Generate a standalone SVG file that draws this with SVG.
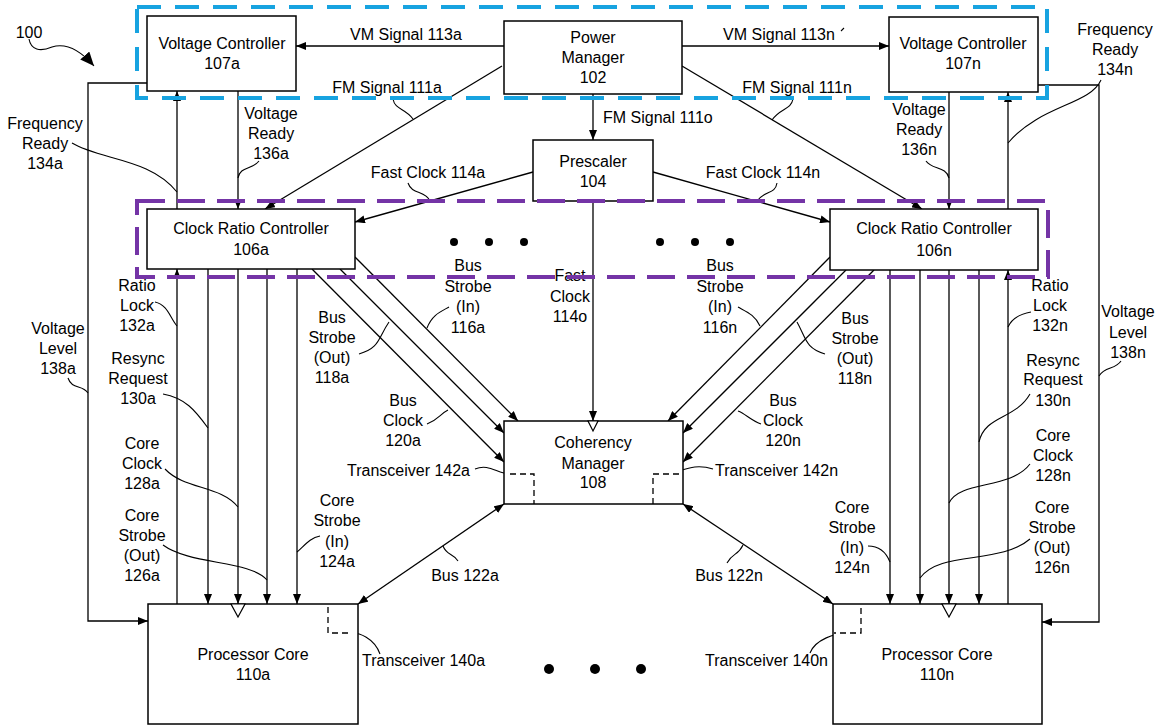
<svg xmlns="http://www.w3.org/2000/svg" width="1160" height="726" viewBox="0 0 1160 726">
<defs>
<style>
.box{fill:#fff;stroke:#000;stroke-width:1.5}
.ln{fill:none;stroke:#000;stroke-width:1.3}
.ar{marker-end:url(#ah)}
.bi{marker-start:url(#ah);marker-end:url(#ah)}
.co{fill:none;stroke:#000;stroke-width:1.1}
.dl{fill:none;stroke:#000;stroke-width:1.3;stroke-dasharray:6 4}
.clk{fill:#fff;stroke:#000;stroke-width:1.2}
.dot{fill:#000}
text{font-family:"Liberation Sans",Arial,sans-serif;font-size:16px;fill:#000}
.c{text-anchor:middle}
.e{text-anchor:end}
.blue{fill:none;stroke:#17A3E0;stroke-width:4;stroke-dasharray:24 14}
.purple{fill:none;stroke:#7434A6;stroke-width:4;stroke-dasharray:28 12}
</style>
<marker id="ah" viewBox="0 0 10 8" refX="10" refY="4" markerWidth="10" markerHeight="8" markerUnits="userSpaceOnUse" orient="auto-start-reverse"><path d="M0,0L10,4L0,8z" fill="#000"/></marker>
<marker id="ahb" viewBox="0 0 14 12" refX="14" refY="6" markerWidth="14" markerHeight="12" markerUnits="userSpaceOnUse" orient="auto"><path d="M0,0L14,6L0,12z" fill="#000"/></marker>
</defs>
<rect width="1160" height="726" fill="#fff"/>

<g id="connectors">
  <!-- VM signals -->
  <path class="ln ar" d="M504,46H296"/>
  <path class="ln ar" d="M682,46H889"/>
  <!-- FM signals -->
  <path class="ln ar" d="M502,66L265,209"/>
  <path class="ln ar" d="M682,66L922,209"/>
  <path class="ln ar" d="M593,94V140"/>
  <!-- Fast clocks -->
  <path class="ln ar" d="M533,172L355,222"/>
  <path class="ln ar" d="M653,172L830,222"/>
  <path class="ln ar" d="M593,201V421"/>
  <!-- Frequency / Voltage ready -->
  <path class="ln ar" d="M177,209V91"/>
  <path class="ln ar" d="M238,91V209"/>
  <path class="ln ar" d="M1008,209V92"/>
  <path class="ln ar" d="M949,92V209"/>
  <!-- Voltage level -->
  <path class="ln ar" d="M147,83H88V621H148"/>
  <path class="ln ar" d="M1038,85H1099V622H1042"/>
  <!-- CRC 106a to core 110a -->
  <path class="ln ar" d="M177,604V269"/>
  <path class="ln ar" d="M208,269V604"/>
  <path class="ln ar" d="M238,269V604"/>
  <path class="ln ar" d="M267,269V604"/>
  <path class="ln ar" d="M297,269V604"/>
  <!-- CRC 106n to core 110n -->
  <path class="ln ar" d="M890,270V604"/>
  <path class="ln ar" d="M920,270V604"/>
  <path class="ln ar" d="M949,270V604"/>
  <path class="ln ar" d="M979,270V604"/>
  <path class="ln ar" d="M1008,604V270"/>
  <!-- Bus strobe / bus clock lines -->
  <path class="ln ar" d="M355,257L518,421"/>
  <path class="ln ar" d="M340,269L504,433"/>
  <path class="ln ar" d="M312,269L504,462"/>
  <path class="ln ar" d="M830,257L668,421"/>
  <path class="ln ar" d="M846,270L683,433"/>
  <path class="ln ar" d="M874,270L683,462"/>
  <!-- Buses -->
  <path class="ln bi" d="M504,504L358,604"/>
  <path class="ln bi" d="M683,504L833,604"/>
  <!-- 100 reference arrow -->
  <path class="co" d="M29,39C31,50 40,52 52,47C65,43 80,50 94,66" marker-end="url(#ahb)"/>
  <!-- callout leaders -->
  <path class="co" d="M72,143C100,160 150,158 177,192"/>
  <path class="co" d="M259,161C252,170 240,166 238,178"/>
  <path class="co" d="M926,161C932,170 946,166 949,178"/>
  <path class="co" d="M1101,80C1090,105 1040,105 1008,143"/>
  <path class="co" d="M393,99C395,110 405,108 413,119"/>
  <path class="co" d="M793,99C791,110 780,108 772,120"/>
  <path class="co" d="M408,183C412,195 425,190 430,201"/>
  <path class="co" d="M777,183C775,195 765,190 757,201"/>
  <path class="co" d="M155,302C168,305 170,318 177,326"/>
  <path class="co" d="M68,378C72,390 82,384 88,393"/>
  <path class="co" d="M163,394C185,398 195,410 208,428"/>
  <path class="co" d="M165,469C185,490 220,485 238,507"/>
  <path class="co" d="M163,545C190,565 250,560 267,580"/>
  <path class="co" d="M320,536C310,538 305,545 297,552"/>
  <path class="co" d="M359,354C380,348 378,338 389,322"/>
  <path class="co" d="M449,307C440,312 432,315 427,328"/>
  <path class="co" d="M427,424C438,420 440,414 448,410"/>
  <path class="co" d="M738,307C747,312 755,315 760,326"/>
  <path class="co" d="M825,354C805,348 806,338 797,322"/>
  <path class="co" d="M761,424C750,420 746,414 738,411"/>
  <path class="co" d="M1031,312C1020,314 1012,318 1008,327"/>
  <path class="co" d="M1121,361C1115,370 1105,366 1099,376"/>
  <path class="co" d="M1030,394C1015,420 985,415 979,442"/>
  <path class="co" d="M1030,464C1010,490 960,480 949,503"/>
  <path class="co" d="M1030,539C1000,565 940,550 920,578"/>
  <path class="co" d="M868,546C878,546 886,552 890,562"/>
  <path class="co" d="M443,546C447,556 452,552 458,561"/>
  <path class="co" d="M743,545C738,556 733,552 727,563"/>
  <path class="co" d="M475,469C490,463 498,475 512,474"/>
  <path class="co" d="M663,474C680,474 690,462 713,469"/>
  <path class="co" d="M345,634C360,630 375,640 380,654"/>
  <path class="co" d="M850,634C835,632 815,640 810,653"/>
  <path class="co" d="M841,31L844,28"/>
</g>

<g id="power-manager">
  <rect class="box" x="504" y="21" width="178" height="73"/>
  <text class="c" x="593" y="43">Power</text>
  <text class="c" x="593" y="63">Manager</text>
  <text class="c" x="593" y="83">102</text>
</g>
<g id="voltage-controller-107a">
  <rect class="box" x="147" y="16" width="149" height="75"/>
  <text class="c" x="222" y="49">Voltage Controller</text>
  <text class="c" x="222" y="69">107a</text>
</g>
<g id="voltage-controller-107n">
  <rect class="box" x="889" y="17" width="149" height="75"/>
  <text class="c" x="963" y="49">Voltage Controller</text>
  <text class="c" x="963" y="69">107n</text>
</g>
<g id="prescaler-104">
  <rect class="box" x="533" y="140" width="120" height="61"/>
  <text class="c" x="593" y="167">Prescaler</text>
  <text class="c" x="593" y="187">104</text>
</g>
<g id="clock-ratio-controller-106a">
  <rect class="box" x="147" y="209" width="208" height="60"/>
  <text class="c" x="251" y="234">Clock Ratio Controller</text>
  <text class="c" x="251" y="255">106a</text>
</g>
<g id="clock-ratio-controller-106n">
  <rect class="box" x="830" y="209" width="208" height="61"/>
  <text class="c" x="934" y="234">Clock Ratio Controller</text>
  <text class="c" x="934" y="256">106n</text>
</g>
<g id="coherency-manager-108">
  <rect class="box" x="504" y="421" width="179" height="83"/>
  <path class="clk" d="M588,421L598,421L593,431z"/>
  <path class="dl" d="M510,474H534V504"/>
  <path class="dl" d="M653,504V474H683"/>
  <text class="c" x="593" y="448">Coherency</text>
  <text class="c" x="593" y="469">Manager</text>
  <text class="c" x="593" y="488">108</text>
</g>
<g id="processor-core-110a">
  <rect class="box" x="148" y="604" width="210" height="120"/>
  <path class="clk" d="M231,604L245,604L238,617z"/>
  <path class="dl" d="M328,607V633H351"/>
  <text class="c" x="253" y="660">Processor Core</text>
  <text class="c" x="253" y="680">110a</text>
</g>
<g id="processor-core-110n">
  <rect class="box" x="833" y="604" width="209" height="120"/>
  <path class="clk" d="M942,604L956,604L949,617z"/>
  <path class="dl" d="M861,608V633H834"/>
  <text class="c" x="937" y="660">Processor Core</text>
  <text class="c" x="937" y="680">110n</text>
</g>

<g id="ellipses">
  <circle class="dot" cx="454" cy="242" r="4"/>
  <circle class="dot" cx="489" cy="242" r="4"/>
  <circle class="dot" cx="524" cy="242" r="4"/>
  <circle class="dot" cx="660" cy="242" r="4"/>
  <circle class="dot" cx="695" cy="242" r="4"/>
  <circle class="dot" cx="730" cy="242" r="4"/>
  <circle class="dot" cx="549" cy="669" r="5"/>
  <circle class="dot" cx="595" cy="669" r="5"/>
  <circle class="dot" cx="641" cy="669" r="5"/>
</g>

<g id="labels">
  <text class="c" x="29" y="38">100</text>
  <text class="c" x="406" y="40">VM Signal 113a</text>
  <text class="c" x="779" y="40">VM Signal 113n</text>
  <text class="c" x="387" y="93">FM Signal 111a</text>
  <text class="c" x="797" y="93">FM Signal 111n</text>
  <text x="603" y="123">FM Signal 111o</text>
  <text class="c" x="428" y="178">Fast Clock 114a</text>
  <text class="c" x="763" y="178">Fast Clock 114n</text>
  <text class="c" x="45" y="129">Frequency</text>
  <text class="c" x="45" y="149">Ready</text>
  <text class="c" x="45" y="169">134a</text>
  <text class="c" x="1115" y="35">Frequency</text>
  <text class="c" x="1115" y="55">Ready</text>
  <text class="c" x="1115" y="75">134n</text>
  <text class="c" x="271" y="119">Voltage</text>
  <text class="c" x="271" y="139">Ready</text>
  <text class="c" x="271" y="159">136a</text>
  <text class="c" x="919" y="115">Voltage</text>
  <text class="c" x="919" y="135">Ready</text>
  <text class="c" x="919" y="155">136n</text>
  <text class="c" x="570" y="281">Fast</text>
  <text class="c" x="570" y="302">Clock</text>
  <text class="c" x="570" y="322">114o</text>
  <text class="c" x="468" y="271">Bus</text>
  <text class="c" x="468" y="292">Strobe</text>
  <text class="c" x="468" y="312">(In)</text>
  <text class="c" x="468" y="333">116a</text>
  <text class="c" x="720" y="271">Bus</text>
  <text class="c" x="720" y="292">Strobe</text>
  <text class="c" x="720" y="312">(In)</text>
  <text class="c" x="720" y="333">116n</text>
  <text class="c" x="332" y="323">Bus</text>
  <text class="c" x="332" y="343">Strobe</text>
  <text class="c" x="332" y="363">(Out)</text>
  <text class="c" x="332" y="383">118a</text>
  <text class="c" x="855" y="324">Bus</text>
  <text class="c" x="855" y="344">Strobe</text>
  <text class="c" x="855" y="364">(Out)</text>
  <text class="c" x="855" y="384">118n</text>
  <text class="c" x="137" y="291">Ratio</text>
  <text class="c" x="137" y="311">Lock</text>
  <text class="c" x="137" y="331">132a</text>
  <text class="c" x="1050" y="291">Ratio</text>
  <text class="c" x="1050" y="311">Lock</text>
  <text class="c" x="1050" y="331">132n</text>
  <text class="c" x="58" y="334">Voltage</text>
  <text class="c" x="58" y="354">Level</text>
  <text class="c" x="58" y="374">138a</text>
  <text class="c" x="1128" y="317">Voltage</text>
  <text class="c" x="1128" y="338">Level</text>
  <text class="c" x="1128" y="358">138n</text>
  <text class="c" x="138" y="364">Resync</text>
  <text class="c" x="138" y="384">Request</text>
  <text class="c" x="138" y="404">130a</text>
  <text class="c" x="1053" y="366">Resync</text>
  <text class="c" x="1053" y="385">Request</text>
  <text class="c" x="1053" y="406">130n</text>
  <text class="c" x="142" y="449">Core</text>
  <text class="c" x="142" y="469">Clock</text>
  <text class="c" x="142" y="489">128a</text>
  <text class="c" x="1053" y="441">Core</text>
  <text class="c" x="1053" y="461">Clock</text>
  <text class="c" x="1053" y="481">128n</text>
  <text class="c" x="142" y="521">Core</text>
  <text class="c" x="142" y="541">Strobe</text>
  <text class="c" x="142" y="561">(Out)</text>
  <text class="c" x="142" y="581">126a</text>
  <text class="c" x="1052" y="513">Core</text>
  <text class="c" x="1052" y="533">Strobe</text>
  <text class="c" x="1052" y="553">(Out)</text>
  <text class="c" x="1052" y="573">126n</text>
  <text class="c" x="337" y="506">Core</text>
  <text class="c" x="337" y="526">Strobe</text>
  <text class="c" x="337" y="547">(In)</text>
  <text class="c" x="337" y="567">124a</text>
  <text class="c" x="852" y="513">Core</text>
  <text class="c" x="852" y="533">Strobe</text>
  <text class="c" x="852" y="553">(In)</text>
  <text class="c" x="852" y="573">124n</text>
  <text class="c" x="403" y="406">Bus</text>
  <text class="c" x="403" y="426">Clock</text>
  <text class="c" x="403" y="446">120a</text>
  <text class="c" x="783" y="406">Bus</text>
  <text class="c" x="783" y="426">Clock</text>
  <text class="c" x="783" y="446">120n</text>
  <text class="e" x="470" y="476">Transceiver 142a</text>
  <text x="715" y="476">Transceiver 142n</text>
  <text x="362" y="666">Transceiver 140a</text>
  <text class="e" x="828" y="666">Transceiver 140n</text>
  <text class="c" x="465" y="581">Bus 122a</text>
  <text class="c" x="729" y="581">Bus 122n</text>
</g>

<g id="domains">
  <rect class="blue" x="137" y="7" width="910" height="91"/>
  <rect class="purple" x="137" y="201" width="911" height="76"/>
</g>
</svg>
